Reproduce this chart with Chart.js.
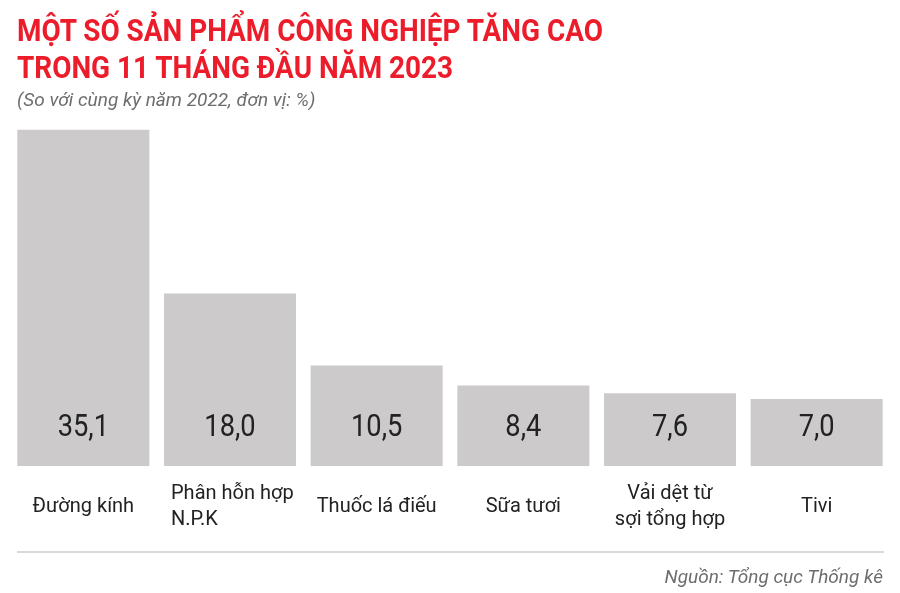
<!DOCTYPE html>
<html lang="vi">
<head>
<meta charset="utf-8">
<script src="https://cdn.jsdelivr.net/npm/chart.js@4/dist/chart.umd.min.js"></script>
<style>
  html, body { margin: 0; padding: 0; background: #fff; }
  #wrap { position: relative; width: 900px; height: 593px; overflow: hidden; font-family: Roboto, sans-serif; }
  #chart { position: absolute; left: 0; top: 0; }
  .cond { position: absolute; white-space: nowrap; transform-origin: left top; }
  #title { left: 17px; top: 12px; color: #ec1c2a; font-weight: 700; font-size: 31px; line-height: 37px; transform: scaleX(0.9); }
  #sub { left: 17px; top: 88px; color: #6d6d6d; font-style: italic; font-size: 19px; }
  #src { right: 17px; top: 565px; color: #6d6d6d; font-style: italic; font-size: 19px; transform-origin: right top; }
  #rule { position: absolute; left: 17px; top: 551px; width: 867px; height: 2px; background: #d9d9d9; }
</style>
</head>
<body>
<div id="wrap">
  <canvas id="chart" width="900" height="593"></canvas>
  <div id="title" class="cond">MỘT SỐ SẢN PHẨM CÔNG NGHIỆP TĂNG CAO<br>TRONG 11 THÁNG ĐẦU NĂM 2023</div>
  <div id="sub" class="cond">(So với cùng kỳ năm 2022, đơn vị: %)</div>
  <div id="rule"></div>
  <div id="src" class="cond">Nguồn: Tổng cục Thống kê</div>
</div>
<script>
// ─── Dados ───────────────────────────────────────────────────────────────────

const categories = [
  ["Đường kính"],
  ["Phân hỗn hợp", "N.P.K"],
  ["Thuốc lá điếu"],
  ["Sữa tươi"],
  ["Vải dệt từ", "sợi tổng hợp"],
  ["Tivi"],
];
const values = [35.1, 18.0, 10.5, 8.4, 7.6, 7.0];

// alinhamento do rótulo de cada categoria (o 2º fica alinhado à esquerda)
const labelAlign = ["center", "left", "center", "center", "center", "center"];

// ─── Rótulos (valor dentro da barra + categoria embaixo) ─────────────────────

const labelsPlugin = {
  id: "labels",
  afterDatasetsDraw(chart) {
    const { ctx, scales: { x } } = chart;
    const base = chart.chartArea.bottom;
    const meta = chart.getDatasetMeta(0);
    ctx.save();
    ctx.fillStyle = "#222";
    ctx.textBaseline = "middle";

    values.forEach((v, i) => {
      const cx = x.getPixelForValue(i);

      // valor
      ctx.save();
      ctx.textAlign = "center";
      ctx.translate(cx, base - 38);
      ctx.scale(0.88, 1);
      ctx.font = "400 31px Roboto";
      ctx.fillText(v.toFixed(1).replace(".", ","), 0, 0);
      ctx.restore();

      // categoria
      const lines = categories[i];
      const lh = 26;
      const top = base + 41 - (lines.length - 1) * lh / 2;
      ctx.font = "400 20px Roboto";
      if (labelAlign[i] === "left") {
        const bar = meta.data[i];
        const left = bar.x - bar.width / 2 + 7;
        ctx.textAlign = "left";
        lines.forEach((ln, j) => ctx.fillText(ln, left, top + j * lh));
      } else {
        ctx.textAlign = "center";
        lines.forEach((ln, j) => ctx.fillText(ln, cx, top + j * lh));
      }
    });
    ctx.restore();
  }
};

// ─── Gráfico ─────────────────────────────────────────────────────────────────

new Chart(document.getElementById("chart"), {
  type: "bar",
  data: {
    labels: categories,
    datasets: [{
      data: values,
      backgroundColor: "#cccacb",
      borderWidth: 0,
      barPercentage: 1,
      categoryPercentage: 0.9,
    }]
  },
  options: {
    responsive: false,
    animation: false,
    layout: { padding: { left: 10, right: 10, top: 121, bottom: 127 } },
    plugins: { legend: { display: false }, tooltip: { enabled: false } },
    scales: {
      x: { display: false },
      y: { display: false, min: 0, max: 36 },
    }
  },
  plugins: [labelsPlugin]
});
</script>
</body>
</html>
